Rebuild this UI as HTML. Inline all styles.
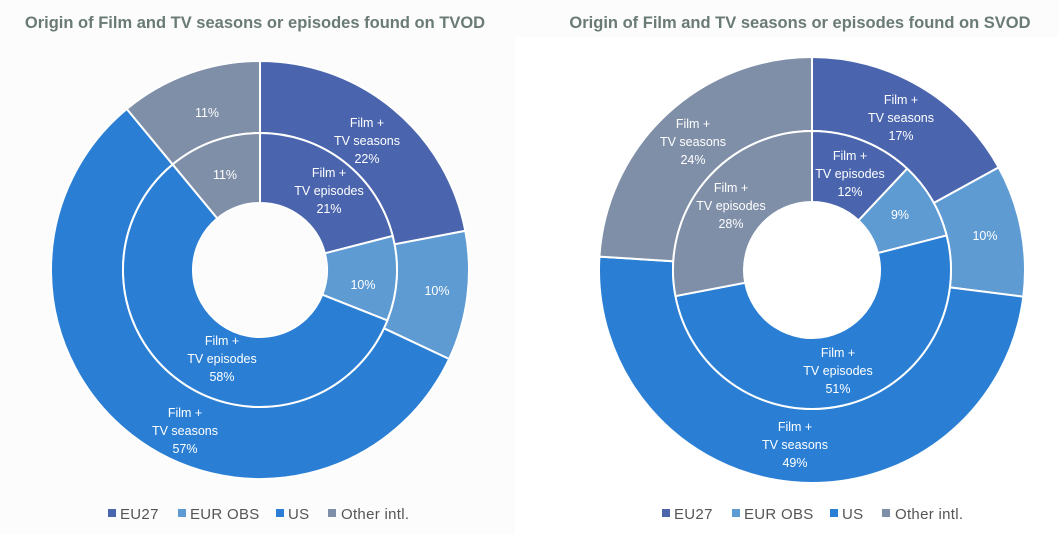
<!DOCTYPE html>
<html><head><meta charset="utf-8"><style>
body{margin:0;width:1058px;height:534px;background:#fcfcfc;overflow:hidden;font-family:"Liberation Sans",sans-serif}
svg{position:absolute;left:0;top:0}
</style></head><body>
<svg width="1058" height="534" viewBox="0 0 1058 534" xmlns="http://www.w3.org/2000/svg">
<rect x="515" y="37" width="543" height="497" fill="#ffffff"/>
<g id="charts"></g>
<g font-family="Liberation Sans, sans-serif" font-weight="bold" font-size="16.5" fill="#6a7a74" text-anchor="middle">
<text x="255" y="28">Origin of Film and TV seasons or episodes found on TVOD</text>
<text x="800" y="28">Origin of Film and TV seasons or episodes found on SVOD</text>
</g>
<g font-family="Liberation Sans, sans-serif" font-size="12.5" fill="#fff" text-anchor="middle">
<text x="367" y="127">Film +</text><text x="367" y="145">TV seasons</text><text x="367" y="163">22%</text>
<text x="329" y="177">Film +</text><text x="329" y="195">TV episodes</text><text x="329" y="213">21%</text>
<text x="437" y="295">10%</text>
<text x="363" y="289">10%</text>
<text x="222" y="345">Film +</text><text x="222" y="363">TV episodes</text><text x="222" y="381">58%</text>
<text x="185" y="417">Film +</text><text x="185" y="435">TV seasons</text><text x="185" y="453">57%</text>
<text x="207" y="117">11%</text>
<text x="225" y="179">11%</text>

<text x="901" y="104">Film +</text><text x="901" y="122">TV seasons</text><text x="901" y="140">17%</text>
<text x="850" y="160">Film +</text><text x="850" y="178">TV episodes</text><text x="850" y="196">12%</text>
<text x="900" y="219">9%</text>
<text x="985" y="240">10%</text>
<text x="838" y="357">Film +</text><text x="838" y="375">TV episodes</text><text x="838" y="393">51%</text>
<text x="795" y="431">Film +</text><text x="795" y="449">TV seasons</text><text x="795" y="467">49%</text>
<text x="693" y="128">Film +</text><text x="693" y="146">TV seasons</text><text x="693" y="164">24%</text>
<text x="731" y="192">Film +</text><text x="731" y="210">TV episodes</text><text x="731" y="228">28%</text>
</g>
<g font-family="Liberation Sans, sans-serif" font-size="15" fill="#555" letter-spacing="0.3">
<rect x="108" y="509" width="8" height="8" fill="#4a65ae"/><text x="120" y="519">EU27</text>
<rect x="178" y="509" width="8" height="8" fill="#5e9bd3"/><text x="190" y="519">EUR OBS</text>
<rect x="276" y="509" width="8" height="8" fill="#2a7fd4"/><text x="288" y="519">US</text>
<rect x="328" y="509" width="8" height="8" fill="#7f8fa8"/><text x="341" y="519">Other intl.</text>
<rect x="662" y="509" width="8" height="8" fill="#4a65ae"/><text x="674" y="519">EU27</text>
<rect x="732" y="509" width="8" height="8" fill="#5e9bd3"/><text x="744" y="519">EUR OBS</text>
<rect x="830" y="509" width="8" height="8" fill="#2a7fd4"/><text x="842" y="519">US</text>
<rect x="882" y="509" width="8" height="8" fill="#7f8fa8"/><text x="895" y="519">Other intl.</text>
</g>
</svg>
<script>
var cols=["#4a65ae","#5e9bd3","#2a7fd4","#7f8fa8"];
function ring(cx,cy,r0,r1,vals){
  var s="",a=0;
  vals.forEach(function(v,i){
    var b=a+v/100*2*Math.PI;
    function p(r,t){return (cx+r*Math.sin(t)).toFixed(2)+","+(cy-r*Math.cos(t)).toFixed(2);}
    var l=(b-a)>Math.PI?1:0;
    s+='<path d="M'+p(r1,a)+' A'+r1+','+r1+' 0 '+l+' 1 '+p(r1,b)+' L'+p(r0,b)+' A'+r0+','+r0+' 0 '+l+' 0 '+p(r0,a)+' Z" fill="'+cols[i]+'" stroke="#fff" stroke-width="2"/>';
    a=b;
  });
  return s;
}
document.getElementById("charts").innerHTML=
 ring(260,270,137,209,[22,10,57,11])+ring(260,270,67,137,[21,10,58,11])+
 ring(812,270,139,213,[17,10,49,24])+ring(812,270,68,139,[12,9,51,28]);
</script>
</body></html>
